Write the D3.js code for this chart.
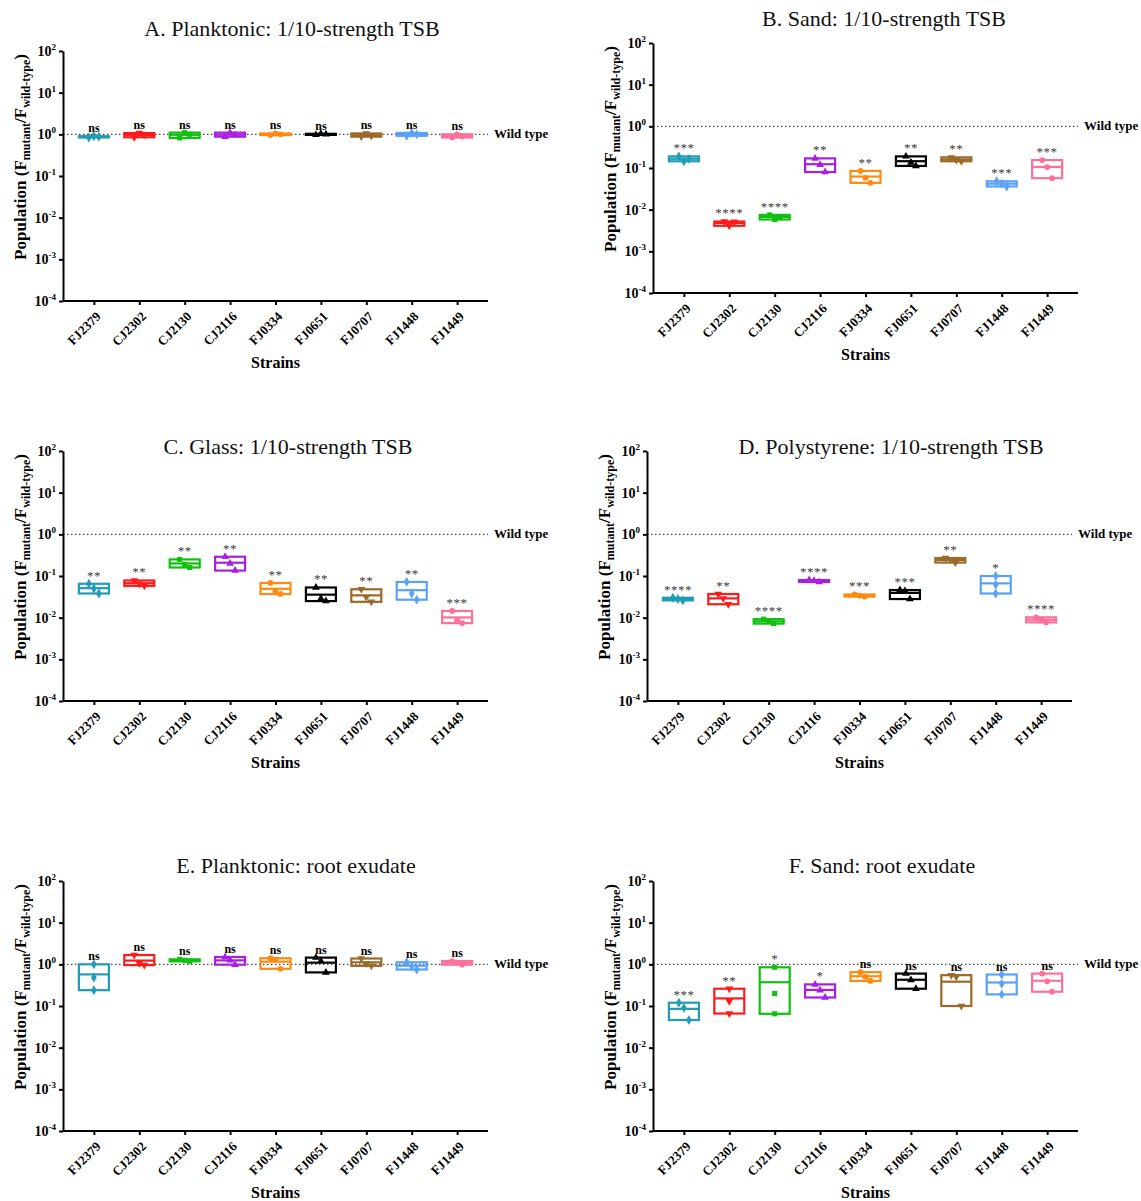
<!DOCTYPE html>
<html>
<head>
<meta charset="utf-8">
<script src="https://cdn.jsdelivr.net/npm/d3@7"></script>
<style>
  body { margin: 0; background: #fff; }
  svg { display: block; }
  svg text { font-family: "Liberation Serif", "Times New Roman", Times, serif !important; }
</style>
</head>
<body>
<svg id="chart"></svg>
<script>
var strains = ['FJ2379', 'CJ2302', 'CJ2130', 'CJ2116', 'FJ0334', 'FJ0651', 'FJ0707', 'FJ1448', 'FJ1449'];
var strainColors = ['#1f9cb6', '#ff1a1a', '#10c010', '#a81fe2', '#ff8a12', '#000000', '#9b6a28', '#5aa2f8', '#ff6f9c'];
var strainShapes = ['diamond', 'down', 'square', 'up', 'circle', 'up', 'down', 'diamond', 'circle'];
var yTicks = [1e-4, 1e-3, 1e-2, 1e-1, 1, 1e1, 1e2];

// three replicates per strain, F_mutant / F_wild-type
var planktonicTSB = [[0.84, 0.90, 0.88], [0.85, 1.07, 0.98], [0.82, 1.10, 1.00], [0.88, 1.10, 0.96], [0.96, 1.05, 1.00],
  [0.97, 1.03, 1.00], [0.88, 1.05, 0.92], [0.92, 1.08, 1.00], [0.84, 1.00, 0.90]];
var sandTSB = [[0.19, 0.145, 0.165], [0.0052, 0.0041, 0.0051], [0.0075, 0.0058, 0.0068], [0.17, 0.12, 0.08], [0.085, 0.058, 0.044],
  [0.19, 0.135, 0.112], [0.18, 0.155, 0.145], [0.048, 0.042, 0.036], [0.155, 0.105, 0.057]];
var glassTSB = [[0.065, 0.05, 0.038], [0.078, 0.065, 0.058], [0.25, 0.19, 0.16], [0.29, 0.2, 0.135], [0.068, 0.043, 0.037],
  [0.053, 0.029, 0.025], [0.048, 0.031, 0.024], [0.072, 0.038, 0.027], [0.0145, 0.0085, 0.0074]];
var polystyreneTSB = [[0.030, 0.028, 0.026], [0.037, 0.029, 0.021], [0.0092, 0.0081, 0.0072], [0.080, 0.077, 0.072], [0.036, 0.034, 0.032],
  [0.046, 0.044, 0.028], [0.27, 0.25, 0.21], [0.10, 0.062, 0.038], [0.0102, 0.0088, 0.0077]];
var planktonicRoot = [[1.0, 0.48, 0.24], [1.67, 1.06, 0.96], [1.32, 1.25, 1.18], [1.5, 1.25, 0.98], [1.4, 1.3, 0.78],
  [1.45, 1.2, 0.64], [1.38, 1.05, 0.92], [1.12, 0.9, 0.75], [1.2, 1.1, 0.98]];
var sandRoot = [[0.12, 0.09, 0.046], [0.26, 0.13, 0.066], [0.85, 0.2, 0.065], [0.33, 0.24, 0.16], [0.65, 0.5, 0.4],
  [0.6, 0.42, 0.26], [0.55, 0.5, 0.1], [0.57, 0.34, 0.19], [0.6, 0.39, 0.22]];

var sigPlanktonicTSB = ['ns', 'ns', 'ns', 'ns', 'ns', 'ns', 'ns', 'ns', 'ns'];
var sigSandTSB = ['***', '****', '****', '**', '**', '**', '**', '***', '***'];
var sigGlassTSB = ['**', '**', '**', '**', '**', '**', '**', '**', '***'];
var sigPolystyreneTSB = ['****', '**', '****', '****', '***', '***', '**', '*', '****'];
var sigPlanktonicRoot = ['ns', 'ns', 'ns', 'ns', 'ns', 'ns', 'ns', 'ns', 'ns'];
var sigSandRoot = ['***', '**', '*', '*', 'ns', 'ns', 'ns', 'ns', 'ns'];

var titles = ['A. Planktonic: 1/10-strength TSB', 'B. Sand: 1/10-strength TSB', 'C. Glass: 1/10-strength TSB',
  'D. Polystyrene: 1/10-strength TSB', 'E. Planktonic: root exudate', 'F. Sand: root exudate'];

var vWidth = 1141;
var vHeight = 1201;
var W = 425;
var H = 250;
var serif = '"Liberation Serif", "Times New Roman", Times, serif';

var panels = [
  { title: titles[0], data: planktonicTSB, sig: sigPlanktonicTSB, x: 63, y: 51, tx: 292, ty: 36 },
  { title: titles[1], data: sandTSB, sig: sigSandTSB, x: 653, y: 43, tx: 884, ty: 26 },
  { title: titles[2], data: glassTSB, sig: sigGlassTSB, x: 63, y: 451, tx: 288, ty: 454 },
  { title: titles[3], data: polystyreneTSB, sig: sigPolystyreneTSB, x: 647, y: 451, tx: 891, ty: 454 },
  { title: titles[4], data: planktonicRoot, sig: sigPlanktonicRoot, x: 63, y: 881, tx: 296, ty: 873 },
  { title: titles[5], data: sandRoot, sig: sigSandRoot, x: 653, y: 881, tx: 882, ty: 873 }
];

var svg = d3.select('#chart')
    .attr('width', vWidth)
    .attr('height', vHeight)
    .attr('font-family', serif);

svg.append('rect').attr('width', vWidth).attr('height', vHeight).attr('fill', '#fff');

var x = d3.scalePoint()
    .domain(strains)
    .range([0, W])
    .padding(0.68);

var y = d3.scaleLog()
    .domain([1e-4, 1e2])
    .range([H, 0]);

function symbolPath(shape) {
  var type = { diamond: d3.symbolDiamond, square: d3.symbolSquare, circle: d3.symbolCircle, up: d3.symbolTriangle, down: d3.symbolTriangle }[shape];
  var size = shape === 'diamond' ? 28 : (shape === 'square' ? 26 : 26);
  return d3.symbol().type(type).size(size)();
}

function drawPanel(p) {
  var g = svg.append('g')
      .attr('transform', 'translate(' + p.x + ',' + p.y + ')');

  svg.append('text')
      .attr('x', p.tx)
      .attr('y', p.ty)
      .attr('text-anchor', 'middle')
      .attr('font-family', serif)
      .attr('font-size', 22)
      .attr('fill', '#111')
      .text(p.title);

  // wild type reference line
  g.append('line')
      .attr('x1', 0).attr('x2', W)
      .attr('y1', y(1)).attr('y2', y(1))
      .attr('stroke', '#444')
      .attr('stroke-width', 1.2)
      .attr('stroke-dasharray', '1.5,2.5');
  g.append('text')
      .attr('x', W + 6)
      .attr('y', y(1) - 1)
      .attr('dy', '0.35em')
      .attr('font-family', serif)
      .attr('font-size', 13)
      .attr('font-weight', 'bold')
      .text('Wild type');

  var yAxis = g.append('g')
      .call(d3.axisLeft(y).tickValues(yTicks).tickSize(4).tickSizeOuter(0).tickPadding(3));
  yAxis.attr('font-family', serif);
  yAxis.select('.domain').attr('stroke-width', 2);
  yAxis.selectAll('.tick line').attr('stroke-width', 2);
  yAxis.selectAll('.tick text').each(function (d) {
    var t = d3.select(this).text(null)
        .attr('font-family', serif)
        .attr('font-weight', 'bold')
        .attr('font-size', 14)
        .attr('fill', '#000');
    t.append('tspan').text('10');
    t.append('tspan').attr('dy', -6).attr('font-size', 9).text(Math.round(Math.log10(d)));
  });

  var xAxis = g.append('g')
      .attr('transform', 'translate(0,' + H + ')')
      .call(d3.axisBottom(x).tickSize(4).tickSizeOuter(0));
  xAxis.attr('font-family', serif);
  xAxis.select('.domain').attr('stroke-width', 2).attr('d', 'M0,0H' + W);
  xAxis.selectAll('.tick line').attr('stroke-width', 2);
  xAxis.selectAll('.tick text')
      .attr('font-family', serif)
      .attr('font-weight', 'bold')
      .attr('font-size', 13)
      .attr('fill', '#000')
      .attr('y', 0)
      .attr('dy', '0.35em')
      .attr('text-anchor', 'end')
      .attr('transform', 'translate(4,13) rotate(-45)');

  g.append('text')
      .attr('x', W / 2)
      .attr('y', H + 67)
      .attr('text-anchor', 'middle')
      .attr('font-family', serif)
      .attr('font-size', 16)
      .attr('font-weight', 'bold')
      .text('Strains');

  var lab = g.append('text')
      .attr('transform', 'translate(-37,' + (H / 2 - 19) + ') rotate(-90)')
      .attr('text-anchor', 'middle')
      .attr('font-family', serif)
      .attr('font-size', 17)
      .attr('font-weight', 'bold');
  lab.append('tspan').text('Population (F');
  lab.append('tspan').attr('dy', 4).attr('font-size', 12).text('mutant');
  lab.append('tspan').attr('dy', -4).text('/F');
  lab.append('tspan').attr('dy', 4).attr('font-size', 12).text('wild-type');
  lab.append('tspan').attr('dy', -4).text(')');

  var groups = g.selectAll('.strain')
      .data(strains.map(function (s, i) {
        var vals = p.data[i];
        return { name: s, i: i, vals: vals, min: d3.min(vals), max: d3.max(vals), mean: d3.mean(vals), sig: p.sig[i] };
      }))
      .enter()
      .append('g')
      .attr('class', 'strain')
      .attr('transform', function (d) { return 'translate(' + x(d.name) + ',0)'; });

  groups.append('rect')
      .attr('x', -15)
      .attr('width', 30)
      .attr('y', function (d) { return y(d.max); })
      .attr('height', function (d) { return Math.max(0.5, y(d.min) - y(d.max)); })
      .attr('fill', 'none')
      .attr('stroke', function (d) { return strainColors[d.i]; })
      .attr('stroke-width', 2.2);

  groups.append('line')
      .attr('x1', -15).attr('x2', 15)
      .attr('y1', function (d) { return y(d.mean); })
      .attr('y2', function (d) { return y(d.mean); })
      .attr('stroke', function (d) { return strainColors[d.i]; })
      .attr('stroke-width', 2.2);

  groups.each(function (d) {
    var ys = d.vals.map(function (v) { return y(v); });
    var crowded = false;
    for (var a = 0; a < ys.length; a++) {
      for (var b = a + 1; b < ys.length; b++) {
        if (Math.abs(ys[a] - ys[b]) < 8) crowded = true;
      }
    }
    var offs = crowded ? [-5, 0, 5] : [0, 0, 0];
    d3.select(this).selectAll('path.pt')
        .data(d.vals)
        .enter()
        .append('path')
        .attr('class', 'pt')
        .attr('d', symbolPath(strainShapes[d.i]))
        .attr('transform', function (v, k) {
          return 'translate(' + offs[k] + ',' + y(v) + ')' + (strainShapes[d.i] === 'down' ? ' rotate(180)' : '');
        })
        .attr('fill', strainColors[d.i]);
  });

  groups.append('text')
      .attr('y', function (d) { return y(d.max) - 4; })
      .attr('text-anchor', 'middle')
      .attr('font-family', serif)
      .attr('font-size', function (d) { return d.sig === 'ns' ? 12 : 13; })
      .attr('font-weight', function (d) { return d.sig === 'ns' ? 'bold' : 'normal'; })
      .attr('fill', function (d) { return d.sig === 'ns' ? '#000' : '#3a3a3a'; })
      .attr('letter-spacing', function (d) { return d.sig === 'ns' ? 0 : 0.5; })
      .text(function (d) { return d.sig; });
}

panels.forEach(drawPanel);
</script>
</body>
</html>
